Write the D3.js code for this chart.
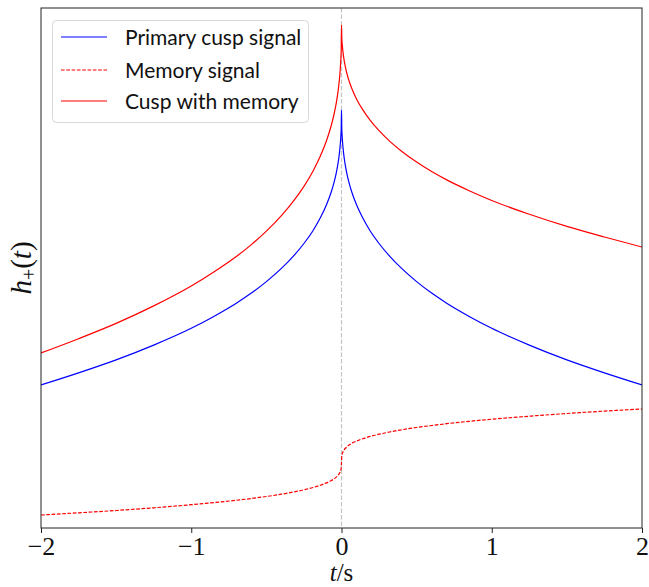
<!DOCTYPE html>
<html>
<head>
<meta charset="utf-8">
<script src="https://cdn.jsdelivr.net/npm/d3@7"></script>
<style>
  html, body { margin: 0; padding: 0; background: #fff; }
  svg { display: block; }
</style>
</head>
<body>
<svg id="chart" width="649" height="587"></svg>
<script>
// ---- data (arbitrary units) ----
const tValues = [-2, -1.75, -1.5, -1.25, -1, -0.85, -0.7, -0.6, -0.5, -0.4, -0.32, -0.25, -0.19, -0.14, -0.1, -0.07,
                 -0.05, -0.035, -0.024, -0.015, -0.009, -0.005, -0.002, 0,
                 0.002, 0.005, 0.009, 0.015, 0.024, 0.035, 0.05, 0.07, 0.1, 0.14, 0.19, 0.25, 0.32, 0.4, 0.5,
                 0.6, 0.7, 0.85, 1, 1.25, 1.5, 1.75, 2];
const primaryCusp = [1.430, 1.551, 1.681, 1.829, 1.997, 2.116, 2.248, 2.349, 2.464, 2.596, 2.719, 2.845, 2.973, 3.104, 3.232, 3.352,
                     3.454, 3.549, 3.638, 3.735, 3.822, 3.905, 3.985, 4.180,
                     3.985, 3.905, 3.822, 3.735, 3.638, 3.549, 3.454, 3.352, 3.232, 3.104, 2.973, 2.845, 2.719, 2.596, 2.464,
                     2.349, 2.248, 2.116, 1.997, 1.829, 1.681, 1.551, 1.430];
const memorySignal = [0.130, 0.152, 0.175, 0.202, 0.233, 0.254, 0.277, 0.295, 0.315, 0.338, 0.360, 0.382, 0.405, 0.428, 0.451, 0.473,
                      0.491, 0.509, 0.526, 0.544, 0.561, 0.577, 0.598, 0.660,
                      0.722, 0.743, 0.759, 0.776, 0.795, 0.811, 0.829, 0.848, 0.869, 0.892, 0.916, 0.938, 0.960, 0.982, 1.005,
                      1.025, 1.043, 1.067, 1.088, 1.118, 1.145, 1.169, 1.190];
const cuspWithMemory = [1.750, 1.893, 2.046, 2.221, 2.420, 2.560, 2.715, 2.834, 2.969, 3.124, 3.269, 3.417, 3.568, 3.722, 3.873, 4.015,
                        4.135, 4.248, 4.354, 4.469, 4.573, 4.672, 4.773, 5.030,
                        4.897, 4.838, 4.771, 4.701, 4.623, 4.550, 4.473, 4.390, 4.291, 4.186, 4.079, 3.973, 3.869, 3.768, 3.659,
                        3.564, 3.481, 3.373, 3.275, 3.137, 3.016, 2.910, 2.810];
const xTicks = [-2, -1, 0, 1, 2];
const seriesNames = ["Primary cusp signal", "Memory signal", "Cusp with memory"];
const seriesColors = ["#0000ff", "#ff0000", "#ff0000"];
const seriesDash = ["none", "3.7,1.6", "none"];

// ---- layout ----
const plot = { left: 41, right: 642, top: 8, bottom: 528 };

const svg = d3.select("#chart");
const x = d3.scaleLinear().domain([-2, 2]).range([plot.left, plot.right]);
const y = d3.scaleLinear().domain([0, 5.2]).range([plot.bottom, plot.top]);

svg.append("defs").append("clipPath").attr("id", "clip")
  .append("rect").attr("x", plot.left).attr("y", plot.top)
  .attr("width", plot.right - plot.left).attr("height", plot.bottom - plot.top);

// vertical dashed line at t = 0
svg.append("line")
  .attr("x1", x(0)).attr("x2", x(0))
  .attr("y1", plot.top).attr("y2", plot.bottom)
  .attr("stroke", "#c4c4c4").attr("stroke-width", 1.2)
  .attr("stroke-dasharray", "4.5,2");

const series = [primaryCusp, memorySignal, cuspWithMemory];
const line = d3.line()
  .x((d, i) => x(tValues[i]))
  .y(d => y(d))
  .curve(d3.curveMonotoneX);

const g = svg.append("g").attr("clip-path", "url(#clip)");
series.forEach((s, k) => {
  g.append("path")
    .datum(s)
    .attr("d", line)
    .style("fill", "none")
    .style("stroke", seriesColors[k])
    .style("stroke-width", "1.2px")
    .style("stroke-dasharray", seriesDash[k]);
});

// frame
svg.append("rect")
  .attr("x", plot.left).attr("y", plot.top)
  .attr("width", plot.right - plot.left).attr("height", plot.bottom - plot.top)
  .attr("fill", "none").attr("stroke", "#222").attr("stroke-width", 1);

// x axis
const xAxis = d3.axisBottom(x).tickValues(xTicks).tickSize(5).tickPadding(4)
  .tickFormat(d => d < 0 ? "\u2212" + Math.abs(d) : String(d));
const ax = svg.append("g").attr("transform", `translate(0,${plot.bottom})`).call(xAxis);
ax.select(".domain").remove();
ax.selectAll(".tick line").attr("stroke", "#222").attr("stroke-width", 1);
ax.selectAll(".tick text")
  .attr("font-family", "'Liberation Serif', 'DejaVu Serif', serif")
  .attr("font-size", 26).attr("fill", "#111").attr("dy", "0.68em");

// x label
const xl = svg.append("text")
  .attr("x", x(0)).attr("y", 581)
  .attr("text-anchor", "middle")
  .attr("font-family", "'Liberation Serif', serif")
  .attr("font-size", 25).attr("fill", "#111");
xl.append("tspan").attr("font-style", "italic").text("t");
xl.append("tspan").text("/s");

// y label
const yl = svg.append("text")
  .attr("transform", `translate(31,${268}) rotate(-90)`)
  .attr("text-anchor", "middle")
  .attr("font-family", "'Liberation Serif', serif")
  .attr("font-size", 29).attr("fill", "#111");
yl.append("tspan").attr("font-style", "italic").text("h");
yl.append("tspan").attr("font-size", 20).attr("dy", 5).text("+");
yl.append("tspan").attr("dy", -5).text("(");
yl.append("tspan").attr("font-style", "italic").text("t");
yl.append("tspan").text(")");

// legend
const lg = svg.append("g");
lg.append("rect")
  .attr("x", 52.5).attr("y", 20.5).attr("width", 256).attr("height", 102)
  .attr("rx", 4).attr("ry", 4)
  .attr("fill", "#fff").attr("fill-opacity", 0.8)
  .attr("stroke", "#d8d8d8").attr("stroke-width", 1);
const rowY = [37, 70, 101];
seriesNames.forEach((name, k) => {
  lg.append("line")
    .attr("x1", 61).attr("x2", 107)
    .attr("y1", rowY[k]).attr("y2", rowY[k])
    .style("stroke", seriesColors[k])
    .style("stroke-width", "1.2px")
    .style("stroke-dasharray", seriesDash[k]);
  lg.append("text")
    .attr("x", 125).attr("y", rowY[k] + 8)
    .attr("font-family", "Lato, 'Open Sans', sans-serif")
    .attr("font-size", 21).attr("fill", "#111")
    .text(name);
});
</script>
</body>
</html>
